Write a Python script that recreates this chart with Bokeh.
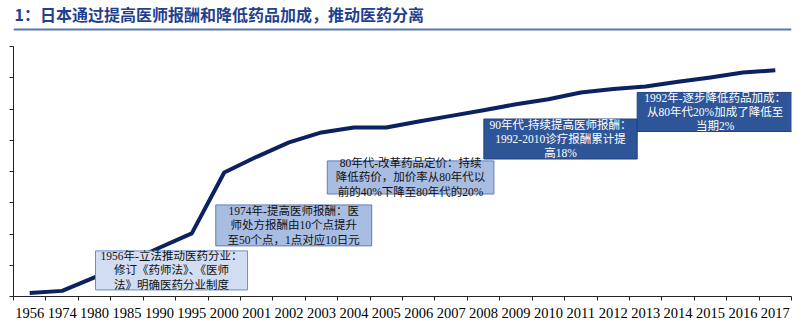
from bokeh.plotting import figure
from bokeh.layouts import column
from bokeh.models import Range1d, FixedTicker
from bokeh.core.properties import value
from bokeh.embed import file_html
from bokeh.resources import INLINE

# ---- data ----
title_text = "1：日本通过提高医师报酬和降低药品加成，推动医药分离"
years = ["1956", "1974", "1980", "1985", "1990", "1995", "2000", "2001", "2002",
         "2003", "2004", "2005", "2006", "2007", "2008", "2009", "2010", "2011",
         "2012", "2013", "2014", "2015", "2016", "2017"]
index_values = [0.11, 0.18, 0.61, 1.08, 1.56, 2.02, 3.97, 4.47, 4.93, 5.25, 5.41,
                5.41, 5.60, 5.78, 5.96, 6.15, 6.31, 6.53, 6.64, 6.72, 6.87, 7.01,
                7.17, 7.24]
y_ticks = [0, 1, 2, 3, 4, 5, 6, 7, 8]
notes = [
    "1956年-立法推动医药分业：\n修订《药师法》、《医师\n法》明确医药分业制度",
    "1974年-提高医师报酬：医\n师处方报酬由10个点提升\n至50个点，1点对应10日元",
    "80年代-改革药品定价：持续\n降低药价，加价率从80年代以\n前的40%下降至80年代的20%",
    "90年代-持续提高医师报酬：\n1992-2010诊疗报酬累计提\n高18%",
    "1992年-逐步降低药品加成：\n从80年代20%加成了降低至\n当期2%",
]

# ---- annotation box layout (placement, not data) ----
box_left = [2.03, 5.74, 9.18, 14.01, 18.74]
box_right = [6.72, 10.55, 14.32, 18.74, 23.55]
box_bottom = [0.21, 1.62, 3.28, 4.40, 5.28]
box_top = [1.46, 2.93, 4.34, 5.68, 6.53]
box_fill = ["#D3DDF1", "#A9BDE3", "#A9BDE3", "#2E5597", "#2E5597"]
box_line = ["#6F8DC2", "#5C7DB8", "#5C7DB8", "#22427E", "#22427E"]
box_text_color = ["#111111", "#111111", "#111111", "#FFFFFF", "#FFFFFF"]

W = 809
HEADER_H = 31
MAIN_H = 333 - HEADER_H

# ---- header (title + rule) ----
h = figure(width=W, height=HEADER_H, output_backend="svg", toolbar_location=None,
           x_range=Range1d(0, W), y_range=Range1d(HEADER_H, 0),
           min_border_left=0, min_border_right=0, min_border_top=0, min_border_bottom=0)
h.axis.visible = False
h.grid.visible = False
h.outline_line_color = None
h.text(x=[1], y=[13], text=[title_text], text_baseline="middle", text_align="left",
       text_font=value("Noto Sans CJK SC"), text_font_style="bold",
       text_font_size="16px", text_color="#1F3F8F")
h.hspan(y=[29], line_color="#5A78AE", line_width=2)

# ---- main chart ----
p = figure(width=W, height=MAIN_H, output_backend="svg", toolbar_location=None,
           x_range=Range1d(-0.5, len(years) - 0.5), y_range=Range1d(0, 8),
           min_border_left=13, min_border_right=18, min_border_top=15, min_border_bottom=37)
p.grid.visible = False
p.outline_line_color = None

xs = list(range(len(years)))
p.line(xs, index_values, line_color="#0B2160", line_width=4, line_join="round")

p.quad(left=box_left, right=box_right, bottom=box_bottom, top=box_top,
       fill_color=box_fill, line_color=box_line, line_width=1)
cx = [(a + b) / 2 for a, b in zip(box_left, box_right)]
cy = [(a + b) / 2 for a, b in zip(box_bottom, box_top)]
p.text(x=cx, y=cy, text=notes, text_align="center", text_baseline="middle",
       text_font=value("'Liberation Serif', 'Noto Sans CJK SC'"),
       text_font_size="11.5px", text_line_height=1.2, text_color=box_text_color)

xa = p.xaxis[0]
xa.ticker = FixedTicker(ticks=xs, minor_ticks=[i - 0.5 for i in range(len(years) + 1)])
xa.major_label_overrides = {i: y for i, y in enumerate(years)}
xa.major_tick_out = 0
xa.major_tick_in = 0
xa.minor_tick_out = 4
xa.minor_tick_in = 0
xa.minor_tick_line_color = "#222222"
xa.axis_line_color = "#222222"
xa.major_label_standoff = 7
xa.major_label_text_font = "Liberation Serif"
xa.major_label_text_font_size = "14.5px"
xa.major_label_text_color = "#000000"

ya = p.yaxis[0]
ya.ticker = FixedTicker(ticks=y_ticks, minor_ticks=[])
ya.major_label_overrides = {t: "" for t in y_ticks}
ya.major_label_standoff = 0
ya.major_tick_out = 4
ya.major_tick_in = 0
ya.major_tick_line_color = "#222222"
ya.axis_line_color = "#222222"

layout = column(h, p, spacing=0)
open("out.html", "w").write(file_html(layout, INLINE))
